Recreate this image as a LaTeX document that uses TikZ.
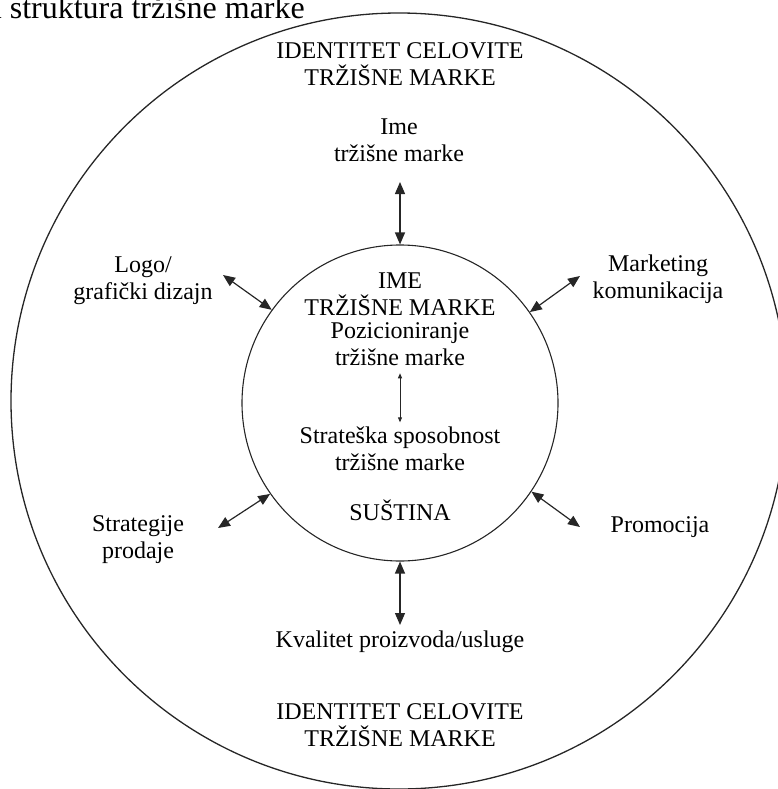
\documentclass[tikz,border=0pt]{standalone}
\usepackage{fontspec}
\setmainfont{Liberation Serif}
\usetikzlibrary{arrows.meta}
\begin{document}
\begin{tikzpicture}[x=1pt,y=-1pt,
  lbl/.style={font=\fontsize{24}{27}\selectfont, align=center, inner sep=0pt, text=black},
  ring/.style={draw=black!85, circle, inner sep=0pt},
  link/.style={draw=black!85, line width=1.2pt,
    {Triangle[length=12pt,width=10pt]}-{Triangle[length=12pt,width=10pt]}},
  smalllink/.style={draw=black!85, line width=0.9pt,
    {Triangle[length=5pt,width=4pt]}-{Triangle[length=5pt,width=4pt]}}
]
\useasboundingbox (0,0) rectangle (778,789);

% heading line
\node[font=\fontsize{32}{34}\selectfont, inner sep=0pt, anchor=base east] (title) at (305,18.5) {a struktura tržišne marke};

% the two rings
\node[ring, line width=1.3pt, minimum size=776pt] (outer) at (399,401) {};
\node[ring, line width=1.1pt, minimum size=316pt] (inner) at (400,403) {};

% labels in the outer ring
\node[lbl] (idTop) at (400,64.5) {IDENTITET CELOVITE\\TRŽIŠNE MARKE};
\node[lbl] (idBot) at (400,725) {IDENTITET CELOVITE\\TRŽIŠNE MARKE};
\node[lbl] (ime) at (399,140.5) {Ime\\tržišne marke};
\node[lbl] (logo) at (143,281) {Logo/\\grafički dizajn};
\node[lbl] (mark) at (658,279.5) {Marketing\\komunikacija};
\node[lbl] (strp) at (138,540) {Strategije\\prodaje};
\node[lbl, anchor=base] (promo) at (660,532) {Promocija};
\node[lbl, anchor=base] (kval) at (400,647) {Kvalitet proizvoda/usluge};

% labels in the core
\node[lbl] (core) at (400,294) {IME\\TRŽIŠNE MARKE};
\node[lbl] (poz) at (400,344.5) {Pozicioniranje\\tržišne marke};
\node[lbl] (strat) at (400,448.5) {Strateška sposobnost\\tržišne marke};
\node[lbl, anchor=base] (sust) at (400,520) {SUŠTINA};

% free ends of the links
\coordinate (imeEnd) at (400,182);
\coordinate (kvalEnd) at (400,625);
\coordinate (logoEnd) at (223,275);
\coordinate (markEnd) at (580,276);
\coordinate (strpEnd) at (218,528);
\coordinate (promoEnd) at (580,527);

% links between the core and the elements
\draw[link] (imeEnd) -- (inner.90);
\draw[link] (kvalEnd) -- (inner.270);
\draw[link] (logoEnd) -- (inner.144.3);
\draw[link] (markEnd) -- (inner.35.4);
\draw[link] (strpEnd) -- (inner.215.3);
\draw[link] (promoEnd) -- (inner.326);

% positioning <-> strategic capability
\draw[smalllink] ([yshift=-7pt]poz.south) -- ([yshift=4pt]strat.north);
\end{tikzpicture}
\end{document}
